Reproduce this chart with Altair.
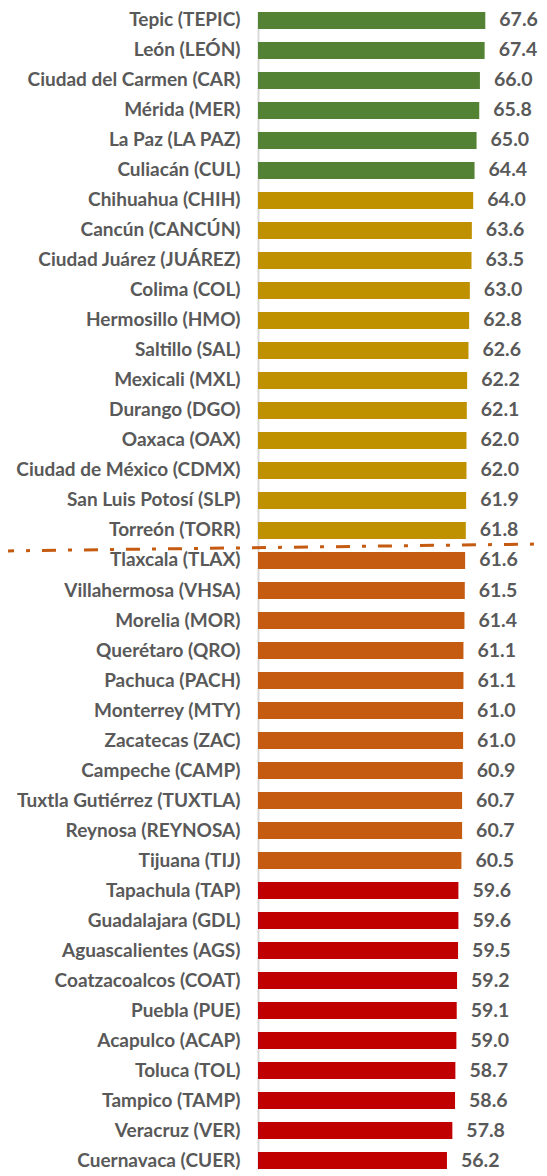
import altair as alt
import pandas as pd

cities = [
    "Tepic (TEPIC)", "León (LEÓN)", "Ciudad del Carmen (CAR)", "Mérida (MER)",
    "La Paz (LA PAZ)", "Culiacán (CUL)", "Chihuahua (CHIH)", "Cancún (CANCÚN)",
    "Ciudad Juárez (JUÁREZ)", "Colima (COL)", "Hermosillo (HMO)", "Saltillo (SAL)",
    "Mexicali (MXL)", "Durango (DGO)", "Oaxaca (OAX)", "Ciudad de México (CDMX)",
    "San Luis Potosí (SLP)", "Torreón (TORR)", "Tlaxcala (TLAX)", "Villahermosa (VHSA)",
    "Morelia (MOR)", "Querétaro (QRO)", "Pachuca (PACH)", "Monterrey (MTY)",
    "Zacatecas (ZAC)", "Campeche (CAMP)", "Tuxtla Gutiérrez (TUXTLA)", "Reynosa (REYNOSA)",
    "Tijuana (TIJ)", "Tapachula (TAP)", "Guadalajara (GDL)", "Aguascalientes (AGS)",
    "Coatzacoalcos (COAT)", "Puebla (PUE)", "Acapulco (ACAP)", "Toluca (TOL)",
    "Tampico (TAMP)", "Veracruz (VER)", "Cuernavaca (CUER)",
]
values = [
    67.6, 67.4, 66.0, 65.8, 65.0, 64.4, 64.0, 63.6, 63.5, 63.0, 62.8, 62.6,
    62.2, 62.1, 62.0, 62.0, 61.9, 61.8, 61.6, 61.5, 61.4, 61.1, 61.1, 61.0,
    61.0, 60.9, 60.7, 60.7, 60.5, 59.6, 59.6, 59.5, 59.2, 59.1, 59.0, 58.7,
    58.6, 57.8, 56.2,
]
groups = ["A"] * 6 + ["B"] * 12 + ["C"] * 11 + ["D"] * 10
group_names = ["A", "B", "C", "D"]
group_colors = ["#548235", "#BF9000", "#C55A11", "#C00000"]

df = pd.DataFrame({"city": cities, "value": values, "group": groups})

W = 269
H = 1157
FONT = "Lato"
GRAY = "#595959"

y_enc = alt.Y(
    "city:N",
    sort=cities,
    scale=alt.Scale(paddingInner=0.437, paddingOuter=0),
    axis=alt.Axis(
        title=None, ticks=False, domain=True, domainColor="#D9D9D9", domainWidth=2,
        labelFont=FONT, labelFontSize=19, labelFontWeight="bold", labelColor=GRAY,
        labelPadding=18, labelLimit=400, grid=False,
    ),
)
x_enc = alt.X("value:Q", scale=alt.Scale(domain=[0, 80], nice=False, zero=True), axis=None)

bars = alt.Chart(df).mark_bar().encode(
    y=y_enc,
    x=x_enc,
    color=alt.Color("group:N", scale=alt.Scale(domain=group_names, range=group_colors), legend=None),
)

labels = alt.Chart(df).mark_text(
    align="left", baseline="middle", dx=14, font=FONT, fontSize=19.5, fontWeight="bold", color=GRAY
).encode(
    y=alt.Y("city:N", sort=cities),
    x="value:Q",
    text=alt.Text("value:Q", format=".1f"),
)

sep = alt.Chart(pd.DataFrame({"k": [0]})).mark_rule(
    color="#C55A11", strokeWidth=3, strokeDash=[14, 12, 4, 12]
).encode(
    x=alt.value(-258), x2=alt.value(282), y=alt.value(539), y2=alt.value(532)
)

chart = (
    alt.layer(bars, labels, sep)
    .properties(
        width=W, height=H,
        padding={"left": 250, "top": 4, "right": 12, "bottom": 8},
        autosize=alt.AutoSizeParams(type="none"),
    )
    .configure_view(stroke=None)
)

chart.save("out.html", embed_options={"renderer": "svg", "actions": False})
